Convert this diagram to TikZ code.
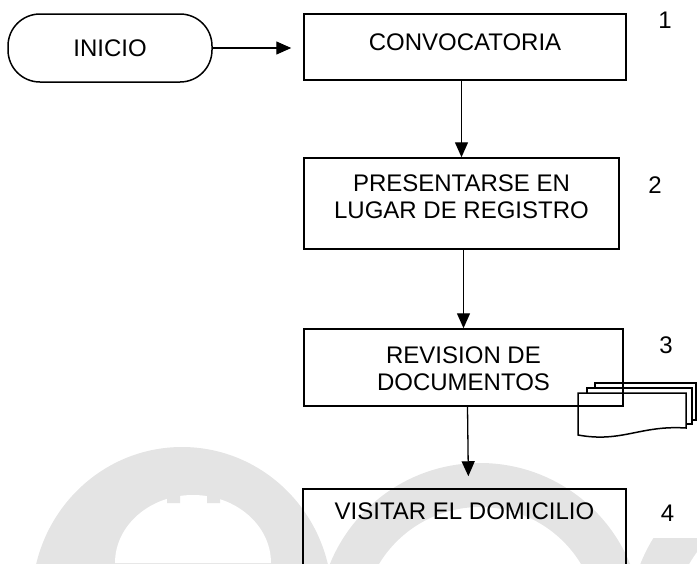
\documentclass[tikz,border=0pt]{standalone}
\usepackage{fontspec}
\setmainfont{Liberation Sans}
\usetikzlibrary{arrows.meta,positioning}
\definecolor{marca}{RGB}{228,228,228}
\tikzset{
  caja/.style={draw, line width=1.5pt},
  texto/.style={font=\fontsize{24}{27}\selectfont, align=center, inner sep=0pt},
  flecha/.style={line width=1.3pt, -{Triangle[length=15pt,width=13pt]}},
  hoja/.style={draw, fill=white, line width=1.5pt},
}

\begin{document}
\begin{tikzpicture}[x=1pt,y=-1pt]
    \useasboundingbox (0,0) rectangle (697,563);
    \clip (0,0) rectangle (697,563);
    % marca de agua
    \fill[marca] (182,600) ellipse [x radius=150pt, y radius=153pt];
    \fill[white] (115,563) arc[start angle=180, end angle=0, x radius=78pt, y radius=68pt];
    \fill[marca] (167,483) rectangle (180,503) (207,483) rectangle (220,503);
    \fill[marca, even odd rule] (480,625) circle[radius=162pt] (480,625) circle[radius=118pt];
    \fill[marca, even odd rule] (800,628) circle[radius=172pt] (800,628) circle[radius=128pt];

    \node[caja, texto, rounded corners=32pt, minimum width=204pt, minimum height=68pt] (inicio) at (110,48) {INICIO};

    \node[caja, minimum width=322pt, minimum height=66pt] (conv) at (465,47) {};
    \node[texto] (tconv) at (465,42) {CONVOCATORIA};
    \node[texto] (n1) at (665,20) {1};

    \node[caja, minimum width=315pt, minimum height=91pt] (reg) at (461.5,203.5) {};
    \node[texto] (treg) at (461.5,196.5) {PRESENTARSE EN\\LUGAR DE REGISTRO};
    \node[texto] (n2) at (655,185) {2};

    % documentos
    \draw[hoja] (595,383) rectangle (696,420);
    \draw[hoja] (587,388) rectangle (692,424);
    \draw[hoja] (578,393) -- (686,393) -- (686,428) .. controls (640,425) and (622,443) .. (578,435) -- cycle;

    \node[caja, minimum width=319pt, minimum height=77pt] (rev) at (463.5,367.5) {};
    \node[texto] (trev) at (463.5,368.5) {REVISION DE\\DOCUMENTOS};
    \node[texto] (n3) at (666,345) {3};

    \node[caja, minimum width=323pt, minimum height=100pt] (vis) at (464.5,539) {};
    \node[texto] (tvis) at (464.5,511) {VISITAR EL DOMICILIO};
    \node[texto, fill=white, minimum width=59pt, minimum height=50pt] (n4) at (667.5,513) {4};

    \draw[flecha, shorten >=12pt] (inicio.east) -- (conv.west |- inicio.east);
    \draw[flecha] (reg.north |- conv.south) -- (reg.north);
    \draw[flecha] (rev.north |- reg.south) -- (rev.north);
    \draw[flecha, shorten >=12pt] ([xshift=4pt]rev.south) -- ([xshift=4pt]vis.north);
\end{tikzpicture}
\end{document}
